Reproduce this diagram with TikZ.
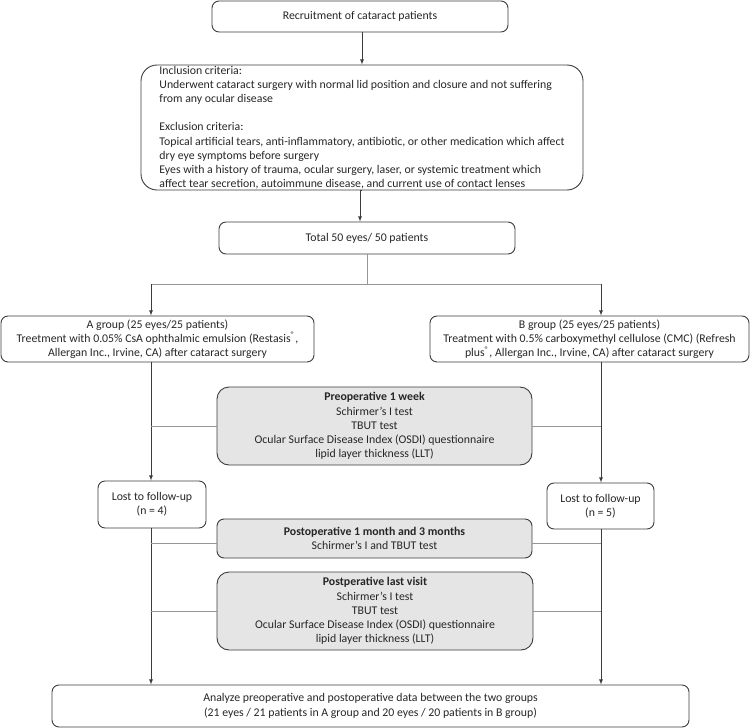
\documentclass[tikz,border=0pt]{standalone}
\usepackage{fontspec}
\setmainfont{Carlito}
\usepackage{xcolor}
\usetikzlibrary{positioning}
\definecolor{bord}{RGB}{60,60,60}
\definecolor{fond}{RGB}{229,229,229}
\definecolor{trait}{RGB}{150,150,150}
\newcommand*{\colA}{151}
\newcommand*{\colB}{601}
\tikzset{
	boite/.style={draw=bord,line width=0.9pt,rounded corners=7pt,align=center,
		inner sep=0pt,text=black!85,font=\fontsize{11.8}{14.2}\selectfont},
	grise/.style={boite,fill=fond},
	fleche/.style={draw=bord,line width=0.8pt,-latex},
	lien/.style={draw=trait,line width=0.8pt}
}

\begin{document}
\begin{tikzpicture}[x=1pt,y=-1pt]
	\useasboundingbox (0,0) rectangle (750,728);
	% boites principales
	\node[boite,minimum width=296pt,minimum height=31pt] (recrut) at (360,16.5)
		{Recruitment of cataract patients};
	\node[boite,rounded corners=16pt,align=left,minimum width=442pt,
		minimum height=125pt] (criteres) at (362,127.5)
		{Inclusion criteria:\\
		Underwent cataract surgery with normal lid position and closure and not suffering\\
		from any ocular disease\\[14.2pt]
		Exclusion criteria:\\
		Topical artificial tears, anti-inflammatory, antibiotic, or other medication which affect\\
		dry eye symptoms before surgery\\
		Eyes with a history of trauma, ocular surgery, laser, or systemic treatment which\\
		affect tear secretion, autoimmune disease, and current use of contact lenses};
	\node[boite,minimum width=296pt,minimum height=32pt] (total) at (367,238)
		{Total 50 eyes/ 50 patients};
	\node[boite,minimum width=313pt,minimum height=46pt] (groupeA) at (157.5,339)
		{A group (25 eyes/25 patients)\\
		Treetment with 0.05\% CsA ophthalmic emulsion (Restasis\textsuperscript{®},\\
		Allergan Inc., Irvine, CA) after cataract surgery};
	\node[boite,minimum width=319pt,minimum height=46pt] (groupeB) at (589.5,339)
		{B group (25 eyes/25 patients)\\
		Treatment with 0.5\% carboxymethyl cellulose (CMC) (Refresh\\
		plus\textsuperscript{®}, Allergan Inc., Irvine, CA) after cataract surgery};
	\node[boite,minimum width=108pt,minimum height=47pt] (perduA) at (152,504.5)
		{Lost to follow-up\\(n = 4)};
	\node[boite,minimum width=107pt,minimum height=46pt] (perduB) at (600.5,506)
		{Lost to follow-up\\(n = 5)};
	\node[boite,minimum width=637pt,minimum height=42pt] (analyse) at (370.5,706)
		{Analyze preoperative and postoperative data between the two groups\\
		(21 eyes / 21 patients in A group and 20 eyes / 20 patients in B group)};
	% examens
	\node[grise,rounded corners=12pt,minimum width=315pt,minimum height=78pt] (preop) at (374.5,426)
		{\textbf{Preoperative 1 week}\\
		Schirmer’s I test\\
		TBUT test\\
		Ocular Surface Disease Index (OSDI) questionnaire\\
		lipid layer thickness (LLT)};
	\node[grise,minimum width=315pt,minimum height=39pt] (postop) at (374.5,538.5)
		{\textbf{Postoperative 1 month and 3 months}\\
		Schirmer’s I and TBUT test};
	\node[grise,rounded corners=12pt,minimum width=316pt,minimum height=78pt] (dernier) at (375,611)
		{\textbf{Postperative last visit}\\
		Schirmer’s I test\\
		TBUT test\\
		Ocular Surface Disease Index (OSDI) questionnaire\\
		lipid layer thickness (LLT)};

	\coordinate (A) at (\colA,284);
	\coordinate (B) at (\colB,284);

	\draw[fleche] (recrut.south -| criteres.north) -- (criteres.north);
	\draw[fleche] (criteres.south) -- (criteres.south -| recrut.south) -- (recrut.south |- total.north);
	\draw[lien] (total.south) -- (total.south |- A);
	\draw[lien] (A) -- (B);
	\draw[fleche] (A) -- (A |- groupeA.north);
	\draw[fleche] (B) -- (B |- groupeB.north);
	\draw[fleche] (A |- groupeA.south) -- (A |- perduA.north);
	\draw[fleche] (B |- groupeB.south) -- (B |- perduB.north);
	\draw[fleche] (A |- perduA.south) -- (A |- analyse.north);
	\draw[fleche] (B |- perduB.south) -- (B |- analyse.north);
	% traits vers les colonnes
	\draw[lien] (preop.west) -- (preop.west -| A);
	\draw[lien] (preop.east) -- (preop.east -| B);
	\draw[lien] ([yshift=-4.5pt]postop.west) -- ([yshift=-4.5pt]postop.west -| A);
	\draw[lien] ([yshift=-4.5pt]postop.east) -- ([yshift=-4.5pt]postop.east -| B);
	\draw[lien] (dernier.west) -- (dernier.west -| A);
	\draw[lien] (dernier.east) -- (dernier.east -| B);
\end{tikzpicture}
\end{document}
